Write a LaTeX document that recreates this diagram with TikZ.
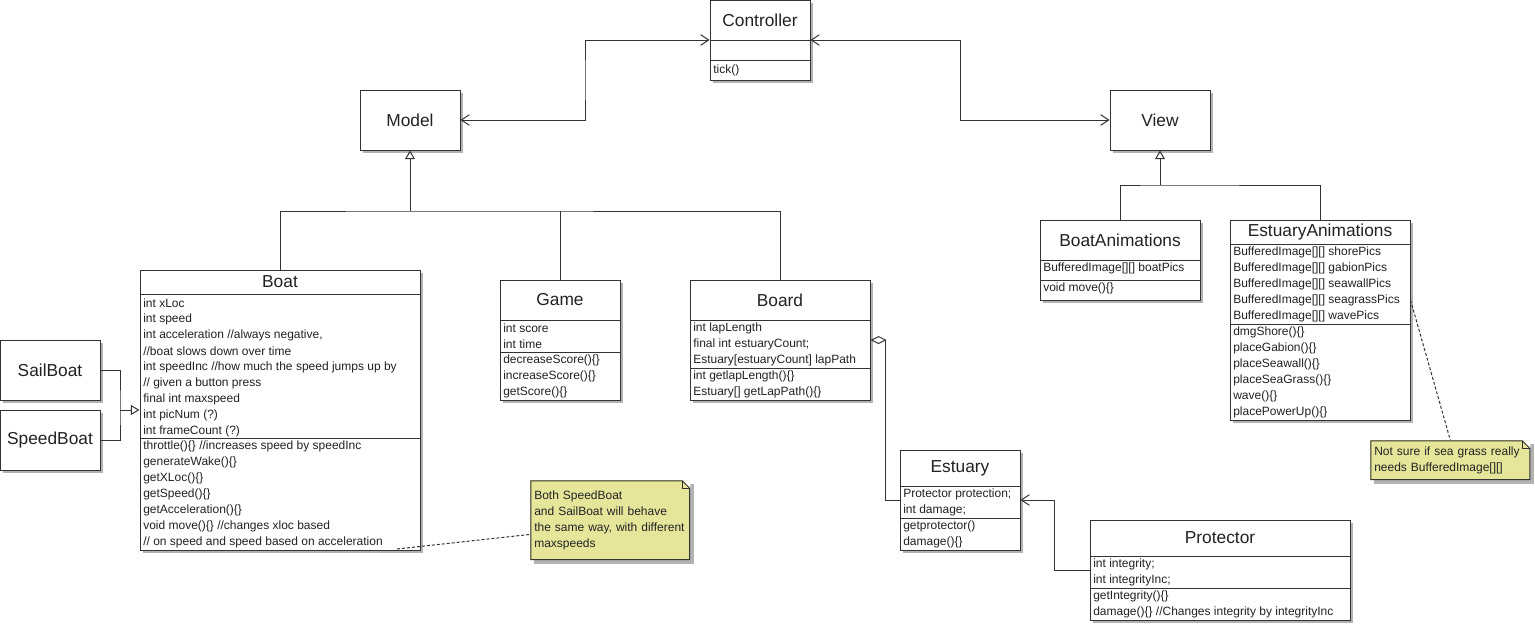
\documentclass[tikz,border=0pt]{standalone}
\usepackage{fontspec}
\setmainfont{Liberation Sans}
\usetikzlibrary{arrows.meta,shadows,fit,calc,positioning}

\definecolor{notefill}{RGB}{230,230,155}
\definecolor{umlline}{RGB}{51,51,51}
\definecolor{umltext}{RGB}{34,34,34}

\tikzset{
  clsbox/.style={draw=umlline,line width=.75pt,fill=white,inner sep=0pt,
    drop shadow={shadow xshift=2.5pt,shadow yshift=-2.5pt,fill=black!30,opacity=1}},
  clstitle/.style={font=\fontsize{13}{15}\selectfont,text=umltext,inner sep=0pt},
  member/.style={anchor=west,font=\fontsize{9}{12}\selectfont,text=umltext,inner sep=0pt},
  divider/.style={draw=umlline,line width=.75pt},
  link/.style={draw=umlline,line width=.75pt},
  biassoc/.style={link,arrows={Straight Barb[length=6pt,width=8pt]-Straight Barb[length=6pt,width=8pt]}},
  navassoc/.style={link,arrows={-Straight Barb[length=6pt,width=8pt]}},
  inherit/.style={link,arrows={-Triangle[open,length=6.5pt,width=7.5pt]}},
  aggr/.style={link,arrows={Diamond[open,length=12pt,width=6pt]-}},
  noteline/.style={draw=umlline,line width=.75pt,dash pattern=on 2.25pt off 1.5pt},
  notebox/.style={anchor=north west,fill=notefill,inner sep=0pt,minimum width=120pt,
    text width=114pt,align=left,text=umltext,font=\fontsize{9}{12}\selectfont,
    drop shadow={shadow xshift=2.5pt,shadow yshift=-2.5pt,fill=black!30,opacity=1},
    path picture={
      \fill[white] ([xshift=-6pt]path picture bounding box.north east) -- (path picture bounding box.north east)
        -- ([yshift=-6pt]path picture bounding box.north east) -- cycle;
      \draw[umlline,line width=.75pt] ([shift={(.4pt,-.4pt)}]path picture bounding box.north west)
        -- ([xshift=-6pt,yshift=-.4pt]path picture bounding box.north east)
        -- ([xshift=-.4pt,yshift=-6pt]path picture bounding box.north east)
        -- ([shift={(-.4pt,.4pt)}]path picture bounding box.south east)
        -- ([shift={(.4pt,.4pt)}]path picture bounding box.south west) -- cycle;
      \draw[umlline,line width=.75pt] ([xshift=-6pt,yshift=-.4pt]path picture bounding box.north east)
        -- ([xshift=-6pt,yshift=-6pt]path picture bounding box.north east)
        -- ([xshift=-.4pt,yshift=-6pt]path picture bounding box.north east);
    }}
}

\begin{document}
\begin{tikzpicture}[x=0.75pt,y=-0.75pt]
\useasboundingbox (0,0) rectangle (1535,625);

% Controller
\node[clsbox,fit={(710,0) (810,80)}] (ctrl) {};
\node[clstitle] (ctrlT) at (760,20) {Controller};
\draw[divider] (710,40) -- (810,40) (710,60) -- (810,60);
\node[member] (ctrlM1) at (713,70) {tick()};

\node[clsbox,fit={(360,90) (460,150)}] (model) {};
\node[clstitle] (modelT) at (model) {Model};
\node[clsbox,fit={(1110,90) (1210,150)}] (view) {};
\node[clstitle] (viewT) at (view) {View};

% Boat
\node[clsbox,fit={(140,270) (420,550)}] (boat) {};
\node[clstitle] (boatT) at (280,282) {Boat};
\draw[divider] (140,294) -- (420,294) (140,438) -- (420,438);
\foreach \t [count=\i] in {int xLoc,int speed,{int acceleration //always negative,},//boat slows down over time,
    int speedInc //how much the speed jumps up by,// given a button press,final int maxspeed,int picNum (?),int frameCount (?)}
  \node[member] (boatA\i) at (143,287+16*\i) {\t};
\foreach \t [count=\i] in {throttle()\{\} //increases speed by speedInc,generateWake()\{\},getXLoc()\{\},
    getSpeed()\{\},getAcceleration()\{\},void move()\{\} //changes xloc based,// on speed and speed based on acceleration}
  \node[member] (boatM\i) at (143,430.3+16*\i) {\t};

\node[clsbox,fit={(0,340) (100,400)}] (sail) {};
\node[clstitle] (sailT) at (sail) {SailBoat};
\node[clsbox,fit={(0,410) (100,470)}] (speed) {};
\node[clstitle] (speedT) at (speed) {SpeedBoat};

% Game
\node[clsbox,fit={(500,280) (620,400)}] (game) {};
\node[clstitle] (gameT) at (560,300) {Game};
\draw[divider] (500,320.7) -- (620,320.7) (500,352.3) -- (620,352.3);
\foreach \t [count=\i] in {int score,int time}
  \node[member] (gameA\i) at (503,312.7+16*\i) {\t};
\foreach \t [count=\i] in {decreaseScore()\{\},increaseScore()\{\},getScore()\{\}}
  \node[member] (gameM\i) at (503,344.3+16*\i) {\t};

% Board
\node[clsbox,fit={(690,280) (870,400)}] (board) {};
\node[clstitle] (boardT) at (780,300) {Board};
\draw[divider] (690,320.7) -- (870,320.7) (690,368.3) -- (870,368.3);
\foreach \t [count=\i] in {int lapLength,{final int estuaryCount;},{Estuary[estuaryCount] lapPath}}
  \node[member] (boardA\i) at (693,312.7+16*\i) {\t};
\foreach \t [count=\i] in {int getlapLength()\{\},{Estuary[] getLapPath()\{\}}}
  \node[member] (boardM\i) at (693,360.3+16*\i) {\t};

% Estuary
\node[clsbox,fit={(900,450) (1020,550)}] (est) {};
\node[clstitle] (estT) at (960,468) {Estuary};
\draw[divider] (900,486) -- (1020,486) (900,518.7) -- (1020,518.7);
\foreach \t [count=\i] in {{Protector protection;},{int damage;}}
  \node[member] (estA\i) at (903,478+16*\i) {\t};
\foreach \t [count=\i] in {getprotector(),damage()\{\}}
  \node[member] (estM\i) at (903,510.7+16*\i) {\t};

% Protector
\node[clsbox,fit={(1090,520) (1350,620)}] (prot) {};
\node[clstitle] (protT) at (1220,538) {Protector};
\draw[divider] (1090,556.3) -- (1350,556.3) (1090,588.3) -- (1350,588.3);
\foreach \t [count=\i] in {{int integrity;},{int integrityInc;}}
  \node[member] (protA\i) at (1093,548.3+16*\i) {\t};
\foreach \t [count=\i] in {getIntegrity()\{\},damage()\{\} //Changes integrity by integrityInc}
  \node[member] (protM\i) at (1093,580.3+16*\i) {\t};

% BoatAnimations
\node[clsbox,fit={(1040,220) (1200,300)}] (banim) {};
\node[clstitle] (banimT) at (1120,240) {BoatAnimations};
\draw[divider] (1040,260.7) -- (1200,260.7) (1040,280.3) -- (1200,280.3);
\node[member] (banimA1) at (1043,268.7) {BufferedImage[][] boatPics};
\node[member] (banimM1) at (1043,288.3) {void move()\{\}};

% EstuaryAnimations
\node[clsbox,fit={(1230,220) (1410,420)}] (eanim) {};
\node[clstitle] (eanimT) at (1320,232) {EstuaryAnimations};
\draw[divider] (1230,244) -- (1410,244) (1230,324.3) -- (1410,324.3);
\foreach \t [count=\i] in {shorePics,gabionPics,seawallPics,seagrassPics,wavePics}
  \node[member] (ea\i) at (1233,236+16*\i) {BufferedImage[][] \t};
\foreach \t [count=\i] in {dmgShore()\{\},placeGabion()\{\},placeSeawall()\{\},placeSeaGrass()\{\},wave()\{\},placePowerUp()\{\}}
  \node[member] (eaM\i) at (1233,316.3+16*\i) {\t};

% notes
\node[notebox,minimum height=60pt] (note1) at (530,480) {Both SpeedBoat\\and SailBoat will behave\\the same way, with different\\maxspeeds};
\node[notebox,minimum height=30pt] (note2) at (1370,440) {Not sure if sea grass really\\needs BufferedImage[][]};

% connectors
\draw[biassoc] (model.east) -| ($(model.east)!.5!(ctrl.west)$) |- (ctrl.west);
\draw[biassoc] (ctrl.east) -| ($(ctrl.east)!.5!(view.west)$) |- (view.west);

\coordinate (mjoin) at (410,211);
\draw[link] (boat.north) |- (mjoin) -| (board.north);
\draw[link] (game.north) -- (game.north |- mjoin);
\draw[inherit] (mjoin) -- (model.south);

\coordinate (vjoin) at (1160,185);
\draw[link] (banim.north) |- (vjoin) -| (eanim.north);
\draw[inherit] (vjoin) -- (view.south);

\coordinate (bjoin) at (120,410);
\draw[link] (sail.east) -| (bjoin) |- (speed.east);
\draw[inherit] (bjoin) -- (boat.west);

\draw[aggr] (board.east) -- ++(15,0) |- (est.west);
\draw[navassoc] (prot.west) -- ++(-35,0) |- (est.east);

\coordinate (boatEnd) at (397,549);
\draw[noteline] (boatEnd) -- (note1.190);
\draw[noteline] (ea4 -| eanim.east) -- (note2.north);
\end{tikzpicture}
\end{document}
